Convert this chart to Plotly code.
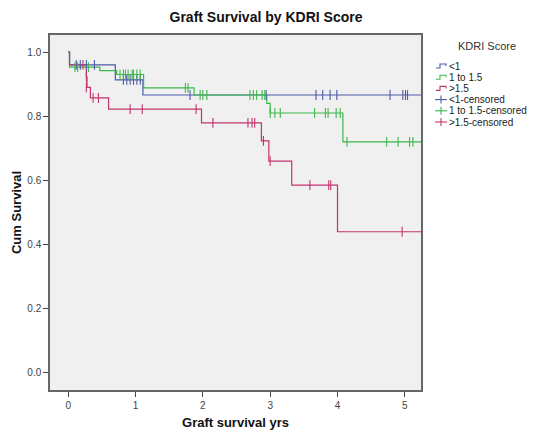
import plotly.graph_objects as go

# ---------------- data ----------------
groups = ["<1", "1 to 1.5", ">1.5"]
censored_names = ["<1-censored", "1 to 1.5-censored", ">1.5-censored"]

# Kaplan-Meier step points (time in years, cumulative survival)
blue_t = [0, 0.02, 0.70, 1.11, 5.25]
blue_s = [1.0, 0.960, 0.913, 0.866, 0.866]

green_t = [0, 0.02, 0.47, 0.72, 1.12, 1.87, 2.95, 3.00, 4.08, 5.25]
green_s = [1.0, 0.953, 0.942, 0.930, 0.888, 0.866, 0.840, 0.810, 0.720, 0.720]

pink_t = [0, 0.02, 0.27, 0.28, 0.33, 0.60, 1.98, 2.87, 2.98, 3.32, 4.00, 5.25]
pink_s = [1.0, 0.960, 0.923, 0.890, 0.857, 0.822, 0.779, 0.723, 0.660, 0.585, 0.440, 0.440]

# censored observations
blue_ct = [0.12, 0.18, 0.27, 0.39, 0.82, 0.87, 0.92, 0.97, 1.02, 1.07,
           1.81, 2.94, 3.68, 3.78, 3.89, 3.99, 4.78, 4.97, 5.01, 5.04]
blue_cs = [0.960, 0.960, 0.960, 0.960, 0.913, 0.913, 0.913, 0.913, 0.913, 0.913,
           0.866, 0.866, 0.866, 0.866, 0.866, 0.866, 0.866, 0.866, 0.866, 0.866]

green_ct = [0.10, 0.14, 0.30, 0.77, 0.82, 0.85, 0.89, 0.95, 0.97, 1.02, 1.07,
            1.74, 1.78, 1.96, 2.00, 2.06, 2.70, 2.75, 2.80, 2.88, 2.92,
            3.00, 3.07, 3.15, 3.66, 3.82, 3.86, 3.98, 4.04,
            4.14, 4.73, 4.90, 5.07, 5.12]
green_cs = [0.953, 0.953, 0.953, 0.930, 0.930, 0.930, 0.930, 0.930, 0.930, 0.930, 0.930,
            0.888, 0.888, 0.866, 0.866, 0.866, 0.866, 0.866, 0.866, 0.866, 0.866,
            0.810, 0.810, 0.810, 0.810, 0.810, 0.810, 0.810, 0.810,
            0.720, 0.720, 0.720, 0.720, 0.720]

pink_ct = [0.22, 0.27, 0.27, 0.37, 0.45, 0.92, 1.10, 1.90, 2.15, 2.67, 2.73, 2.77,
           2.90, 3.00, 3.59, 3.87, 3.90, 4.96]
pink_cs = [0.960, 0.923, 0.890, 0.857, 0.857, 0.822, 0.822, 0.822, 0.779, 0.779, 0.779, 0.779,
           0.723, 0.660, 0.585, 0.585, 0.585, 0.440]

x_ticks = [0, 1, 2, 3, 4, 5]
y_ticks = [0.0, 0.2, 0.4, 0.6, 0.8, 1.0]

# ---------------- styling ----------------
colors = ["#4a5ca8", "#3db84c", "#c3336e"]
FONT = "Liberation Sans, Arial, sans-serif"

fig = go.Figure()

curves = [(blue_t, blue_s), (green_t, green_s), (pink_t, pink_s)]
cens = [(blue_ct, blue_cs), (green_ct, green_cs), (pink_ct, pink_cs)]

for (t, s), name, c in zip(curves, groups, colors):
    fig.add_trace(go.Scatter(x=t, y=s, mode="lines", name=name,
                             line=dict(color=c, width=1.2, shape="hv"),
                             showlegend=False))
for (t, s), name, c in zip(cens, censored_names, colors):
    fig.add_trace(go.Scatter(x=t, y=s, mode="markers", name=name,
                             marker=dict(symbol="line-ns", size=7,
                                         line=dict(color=c, width=1.1)),
                             showlegend=False))

# page body has an 8px default margin; lay the figure out in window pixels
OFF = 8
W, H = 542 - OFF, 432 - OFF
L, R, T, B = 50 - OFF, 421 - OFF, 35 - OFF, 390 - OFF


def px(x):
    return (x - OFF - L) / (R - L)


def py(y):
    return (B - (y - OFF)) / (B - T)


shapes = []
annotations = []

# manual legend (coordinates in window pixels)
annotations.append(dict(text="KDRI Score", x=px(487), y=py(46), xref="paper", yref="paper",
                        showarrow=False, xanchor="center", yanchor="middle",
                        font=dict(family=FONT, size=11, color="#333")))
labels = groups + censored_names
lcolors = colors + colors
for i, (lab, c) in enumerate(zip(labels, lcolors)):
    yc = 66 + 11.2 * i
    annotations.append(dict(text=lab, x=px(447), y=py(yc), xref="paper", yref="paper",
                            showarrow=False, xanchor="left", yanchor="middle",
                            font=dict(family=FONT, size=10, color="#222")))
    if i < 3:
        path = (f"M {px(436)},{py(yc + 2)} L {px(440)},{py(yc + 2)} "
                f"L {px(440)},{py(yc - 2)} L {px(446)},{py(yc - 2)} L {px(446)},{py(yc)}")
        shapes.append(dict(type="path", path=path, xref="paper", yref="paper",
                           line=dict(color=c, width=1.1)))
    else:
        shapes.append(dict(type="line", x0=px(435), x1=px(447), y0=py(yc), y1=py(yc),
                           xref="paper", yref="paper", line=dict(color=c, width=1.1)))
        shapes.append(dict(type="line", x0=px(441), x1=px(441), y0=py(yc - 4), y1=py(yc + 4),
                           xref="paper", yref="paper", line=dict(color=c, width=1.1)))

fig.update_layout(
    width=W, height=H,
    margin=dict(l=L, r=W - R, t=T, b=H - B, pad=0, autoexpand=False),
    paper_bgcolor="white",
    plot_bgcolor="#f0f0f0",
    font=dict(family=FONT, size=10, color="#333"),
    title=dict(text="<b>Graft Survival by KDRI Score</b>", x=px(266), xanchor="center",
               xref="paper", y=1 - (17 - OFF) / H, yanchor="middle",
               font=dict(family=FONT, size=14, color="#111")),
    shapes=shapes,
    annotations=annotations,
    showlegend=False,
)

fig.update_xaxes(range=[-0.27, 5.24], tickvals=x_ticks, ticktext=[str(v) for v in x_ticks],
                 automargin=False,
                 showgrid=False, zeroline=False, showline=True, mirror=True,
                 linecolor="#666", linewidth=1.5, ticks="outside", ticklen=5,
                 tickcolor="#444", tickwidth=1,
                 tickfont=dict(family=FONT, size=10, color="#444"),
                 title=dict(text="<b>Graft survival yrs</b>", standoff=8,
                            font=dict(family=FONT, size=13, color="#111")))
fig.update_yaxes(range=[-0.053, 1.053], tickvals=y_ticks,
                 ticktext=[f"{v:.1f}" for v in y_ticks],
                 automargin=False,
                 showgrid=False, zeroline=False, showline=True, mirror=True,
                 linecolor="#666", linewidth=1.5, ticks="outside", ticklen=5,
                 tickcolor="#444", tickwidth=1,
                 tickfont=dict(family=FONT, size=10, color="#444"),
                 title=dict(text="<b>Cum Survival</b>", standoff=3,
                            font=dict(family=FONT, size=13, color="#111")))

fig.write_html("out.html")
